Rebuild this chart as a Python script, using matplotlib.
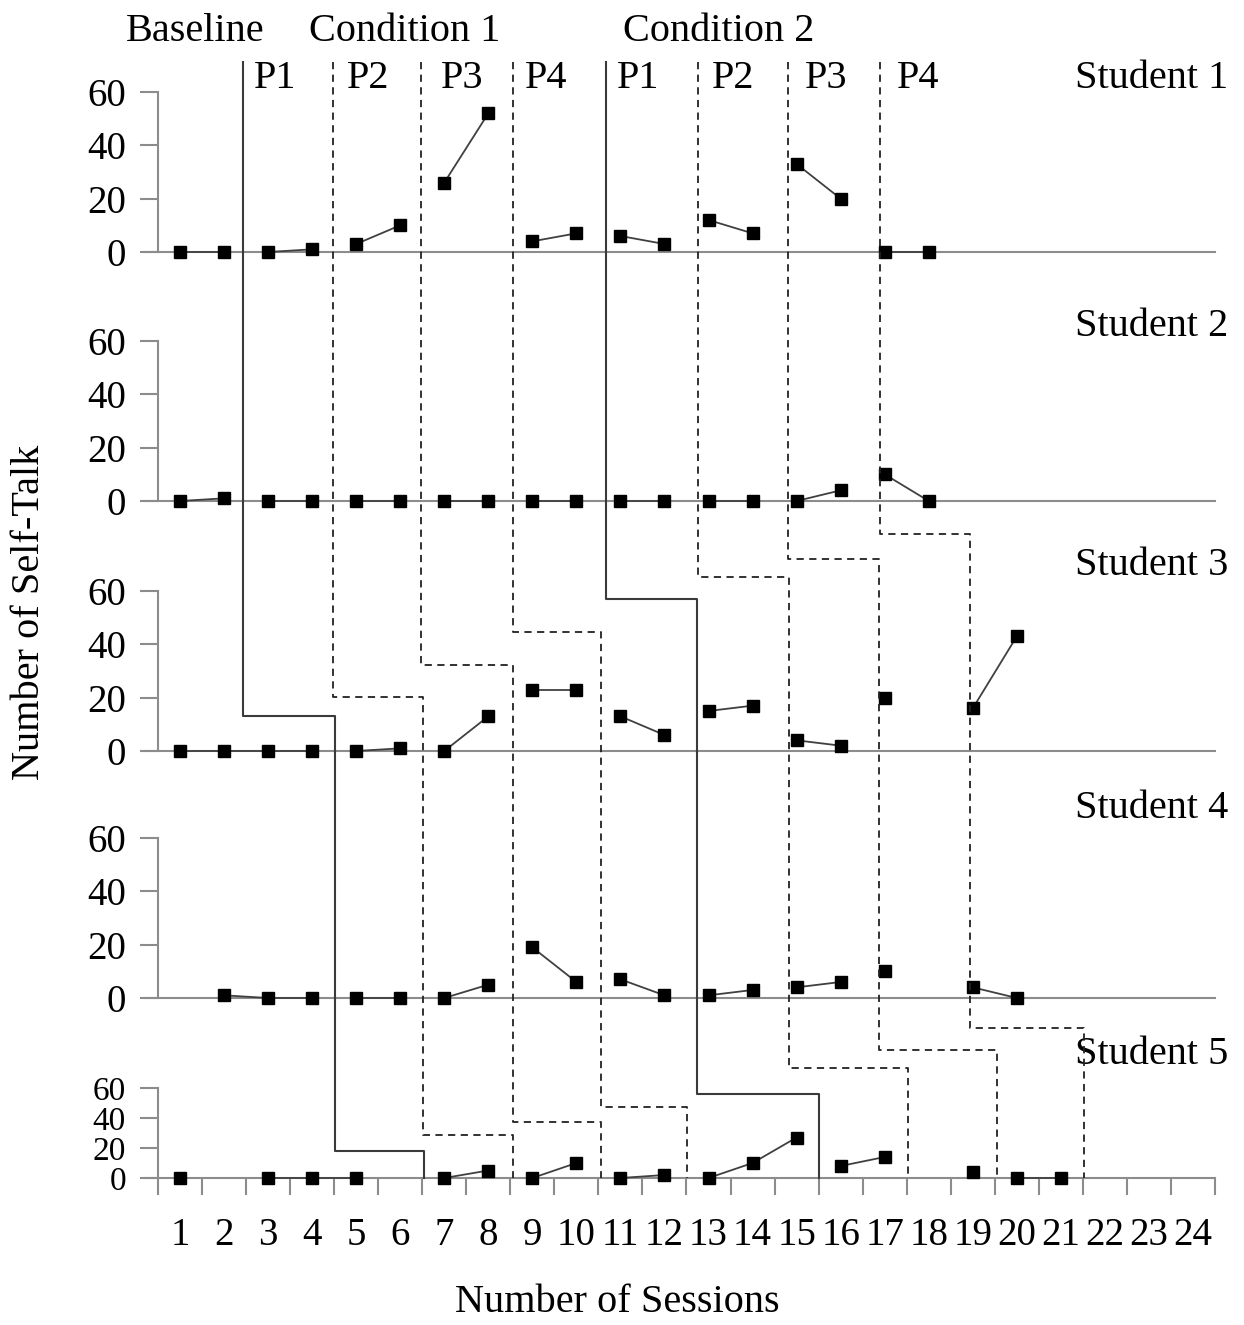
import numpy as np
import matplotlib
matplotlib.use("Agg")
import matplotlib.pyplot as plt
from matplotlib.lines import Line2D

plt.rcParams['font.family'] = ['Liberation Serif', 'DejaVu Serif']

nan = np.nan
sessions = np.arange(1, 25)
tick_labels = [str(s) for s in sessions]

# self-talk counts per session (nan = no session)
student1 = [0, 0, 0, 1, 3, 10, 26, 52, 4, 7, 6, 3, 12, 7, 33, 20, 0, 0]
student2 = [0, 1, 0, 0, 0, 0, 0, 0, 0, 0, 0, 0, 0, 0, 0, 4, 10, 0]
student3 = [0, 0, 0, 0, 0, 1, 0, 13, 23, 23, 13, 6, 15, 17, 4, 2, 20, nan, 16, 43]
student4 = [nan, 1, 0, 0, 0, 0, 0, 5, 19, 6, 7, 1, 1, 3, 4, 6, 10, nan, 4, 0]
student5 = [0, nan, 0, 0, 0, nan, 0, 5, 0, 10, 0, 2, 0, 10, 27, 8, 14, nan, 4, 0, 0]
students = [student1, student2, student3, student4, student5]
student_names = ['Student 1', 'Student 2', 'Student 3', 'Student 4', 'Student 5']

phase_names = ['P1', 'P2', 'P3', 'P4', 'P1', 'P2', 'P3', 'P4']
condition_names = ['Baseline', 'Condition 1', 'Condition 2']

# phase change lines: x (sessions) in top panels / middle panels / bottom panel,
# step heights inside panel 3 and panel 5
line_xa = [2.43, 4.48, 6.48, 8.57, 10.68, 12.75, 14.80, 16.89]
line_xb = [4.52, 6.52, 8.57, 10.57, 12.73, 14.82, 16.86, 18.93]
line_xc = [6.55, 8.55, 10.55, 12.52, 15.5, 17.52, 19.55, 21.52]
step3 = [13.1, 20.2, 32.2, 44.6, 57, 65.2, 72, 81.4]
step5 = [18, 28.7, 37.3, 47.3, 56, 73.3, 85.3, 100]
solid_lines = [0, 4]

W, H = 1244, 1325
fig = plt.figure(figsize=(W / 100, H / 100), dpi=100)

left = 158 / W
width = (1215 - 158) / W
zero_px = [252, 501, 751, 998, 1178]
top_px = [92, 341, 591, 838, 1088]

grey = '#8c8c8c'
axes = []
for i in range(5):
    ax = fig.add_axes([left, (H - zero_px[i]) / H, width, (zero_px[i] - top_px[i]) / H])
    ax.set_xlim(0.5, 24.5)
    ax.set_ylim(0, 60)
    for sp in ['top', 'right']:
        ax.spines[sp].set_visible(False)
    ax.spines['left'].set_color(grey)
    ax.spines['bottom'].set_color(grey)
    ax.spines['left'].set_linewidth(1.5)
    ax.spines['bottom'].set_linewidth(1.5)
    ax.set_yticks([0, 20, 40, 60])
    ax.tick_params(axis='y', colors=grey, length=13, width=1.5, labelsize=28,
                   labelcolor='black', pad=10)
    ax.patch.set_alpha(0)
    axes.append(ax)

for ax in axes[:4]:
    ax.set_xticks([])
    ax.spines['bottom'].set_bounds(0.2, 24.5)

ax5 = axes[4]
ax5.tick_params(axis='y', labelsize=24)
ax5.set_xticks(np.arange(0.5, 25, 1))
ax5.set_xticklabels([])
ax5.tick_params(axis='x', which='major', colors=grey, length=12, width=1.5)
ax5.set_xticks(sessions, minor=True)
ax5.set_xticklabels(tick_labels, minor=True)
ax5.tick_params(axis='x', which='minor', length=0, labelsize=28, pad=28)
ax5.spines['bottom'].set_bounds(0.2, 24.5)

# data, broken at phase changes
bounds_per_panel = [line_xa, line_xa, line_xb, line_xb, line_xc]
for ax, data, bnd in zip(axes, students, bounds_per_panel):
    y = np.array(data, dtype=float)
    x = np.arange(1, len(y) + 1)
    edges = [0] + list(bnd) + [25]
    for lo, hi in zip(edges[:-1], edges[1:]):
        m = (x > lo) & (x < hi)
        if m.sum() == 0:
            continue
        ax.plot(x[m], y[m], color='#404040', lw=1.3, marker='s', markersize=8,
                markerfacecolor='black', markeredgecolor='black', clip_on=False, zorder=5)

# phase change lines drawn across panels
to_fig = fig.transFigure.inverted()
ax1, ax3 = axes[0], axes[2]
for i in range(len(line_xa)):
    pts = [ax1.transData.transform((line_xa[i], 71.3)),
           ax3.transData.transform((line_xa[i], step3[i])),
           ax3.transData.transform((line_xb[i], step3[i])),
           ax5.transData.transform((line_xb[i], step5[i])),
           ax5.transData.transform((line_xc[i], step5[i])),
           ax5.transData.transform((line_xc[i], 0))]
    pts = to_fig.transform(np.array(pts))
    if i in solid_lines:
        ln = Line2D(pts[:, 0], pts[:, 1], transform=fig.transFigure, color='#3a3a3a', lw=1.5)
    else:
        ln = Line2D(pts[:, 0], pts[:, 1], transform=fig.transFigure, color='#222222', lw=1.3,
                    linestyle=(0, (4, 3)))
    fig.add_artist(ln)

# labels
phase_x = [3.16, 5.27, 7.41, 9.32, 11.41, 13.57, 15.68, 17.77]
for px, name in zip(phase_x, phase_names):
    ax1.text(px, 65.2, name, ha='center', va='center', fontsize=29, clip_on=False)
cond_x = [1.34, 6.09, 13.23]
for cx, name in zip(cond_x, condition_names):
    ax1.text(cx, 82.6, name, ha='center', va='center', fontsize=29, clip_on=False)

name_y = [65.2, 65.6, 69.7, 71.2, 82]
for ax, ny, name in zip(axes, name_y, student_names):
    ax.text(24.8, ny, name, ha='right', va='center', fontsize=29, clip_on=False)

fig.text(617 / W, 1 - 1303 / H, 'Number of Sessions', ha='center', va='center', fontsize=29)
fig.text(30 / W, 1 - 612 / H, 'Number of Self-Talk', ha='center', va='center',
         fontsize=29, rotation=90)

fig.savefig('out.png', dpi=100)
